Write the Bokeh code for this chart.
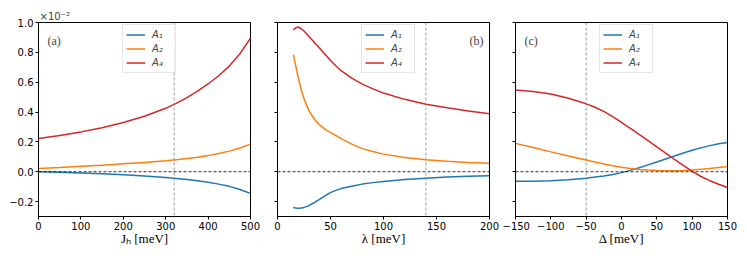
from bokeh.plotting import figure
from bokeh.models import Range1d, FixedTicker, CustomJSTickFormatter, Span, Label
from bokeh.layouts import row
from bokeh.embed import file_html
from bokeh.resources import INLINE

# ---------------- data ----------------
# panel (a): J_H [meV]
jh = [0, 50, 100, 150, 200, 250, 300, 325, 350, 375, 400, 425, 450, 475, 500]
a_A1 = [0.0, -0.004, -0.009, -0.014, -0.021, -0.029, -0.039, -0.045, -0.052, -0.060,
        -0.070, -0.083, -0.098, -0.119, -0.145]
a_A2 = [0.022, 0.028, 0.036, 0.044, 0.053, 0.062, 0.073, 0.080, 0.088, 0.097,
        0.108, 0.122, 0.138, 0.159, 0.185]
a_A4 = [0.222, 0.243, 0.267, 0.295, 0.330, 0.372, 0.425, 0.458, 0.497, 0.540,
        0.588, 0.643, 0.708, 0.790, 0.895]

# panel (b): lambda [meV]
lam = [15, 16, 17.5, 19, 20, 22.5, 25, 27.5, 30, 35, 40, 45, 50, 55, 60, 70, 80, 90,
       100, 120, 140, 160, 180, 200]
b_A1 = [-0.238, -0.241, -0.243, -0.244, -0.244, -0.243, -0.239, -0.234, -0.226, -0.206,
        -0.183, -0.160, -0.140, -0.125, -0.113, -0.097, -0.083, -0.073,
        -0.065, -0.052, -0.043, -0.036, -0.031, -0.027]
b_A2 = [0.784, 0.750, 0.700, 0.648, 0.617, 0.546, 0.490, 0.445, 0.405, 0.350,
        0.312, 0.284, 0.262, 0.243, 0.222, 0.185, 0.155, 0.135,
        0.118, 0.095, 0.080, 0.070, 0.062, 0.056]
b_A4 = [0.950, 0.958, 0.965, 0.969, 0.968, 0.958, 0.943, 0.925, 0.905, 0.865,
        0.825, 0.785, 0.745, 0.710, 0.677, 0.627, 0.587, 0.555,
        0.527, 0.485, 0.452, 0.428, 0.407, 0.389]

# panel (c): Delta [meV]
delta = [-150, -125, -100, -75, -50, -37.5, -25, -12.5, 0, 12.5, 25, 37.5, 50, 62.5,
         75, 87.5, 100, 112.5, 125, 137.5, 150]
c_A1 = [-0.064, -0.063, -0.060, -0.054, -0.043, -0.036, -0.028, -0.018, -0.006, 0.009,
        0.027, 0.046, 0.065, 0.085, 0.105, 0.125, 0.144, 0.160, 0.175, 0.187, 0.196]
c_A2 = [0.190, 0.162, 0.133, 0.105, 0.078, 0.065, 0.052, 0.040, 0.030, 0.021,
        0.015, 0.011, 0.008, 0.006, 0.006, 0.008, 0.012, 0.017, 0.022, 0.029, 0.035]
c_A4 = [0.547, 0.538, 0.521, 0.492, 0.455, 0.432, 0.404, 0.369, 0.330, 0.290,
        0.250, 0.209, 0.167, 0.125, 0.083, 0.042, 0.002, -0.032, -0.060, -0.084, -0.106]

series_names = ["A\u2081", "A\u2082", "A\u2084"]
colors = ["#1f77b4", "#ff7f0e", "#d62728"]

y_ticks = [-0.2, 0.0, 0.2, 0.4, 0.6, 0.8, 1.0]
a_xticks = [0, 100, 200, 300, 400, 500]
b_xticks = [0, 50, 100, 150, 200]
c_xticks = [-150, -100, -50, 0, 50, 100, 150]

a_marker, b_marker, c_marker = 320, 140, -50

panels = [
    dict(x=jh, ys=[a_A1, a_A2, a_A4], xr=(0, 500), xt=a_xticks, vline=a_marker,
         tag="(a)", xlabel="J\u2095 [meV]", left=38, right=13, show_y=True),
    dict(x=lam, ys=[b_A1, b_A2, b_A4], xr=(0, 200), xt=b_xticks, vline=b_marker,
         tag="(b)", xlabel="\u03bb [meV]", left=14, right=13, show_y=False),
    dict(x=delta, ys=[c_A1, c_A2, c_A4], xr=(-150, 150), xt=c_xticks, vline=c_marker,
         tag="(c)", xlabel="\u0394 [meV]", left=13, right=12, show_y=False),
]

FW, FH = 212, 194
SERIF = "Liberation Serif"
SANS = "DejaVu Sans"

figs = []
for i, pd_ in enumerate(panels):
    p = figure(frame_width=FW, frame_height=FH,
               x_range=Range1d(*pd_["xr"]), y_range=Range1d(-0.3, 1.0),
               output_backend="svg", toolbar_location=None,
               min_border_left=pd_["left"], min_border_right=pd_["right"],
               min_border_top=22, min_border_bottom=38,
               background_fill_color="white", border_fill_color="white")
    p.grid.visible = False
    p.outline_line_color = "black"
    p.outline_line_width = 1

    for ax in (p.xaxis[0], p.yaxis[0]):
        ax.major_tick_out = 3
        ax.major_tick_in = 0
        ax.minor_tick_out = 0
        ax.minor_tick_in = 0
        ax.axis_line_color = "black"
        ax.major_tick_line_color = "black"
        ax.major_label_text_font = SANS
        ax.major_label_text_font_size = "10px"
        ax.major_label_text_color = "black"
        ax.major_label_standoff = 2

    p.xaxis.ticker = FixedTicker(ticks=pd_["xt"])
    p.xaxis.formatter = CustomJSTickFormatter(code="return tick.toFixed(0).replace('-', '\u2212');")
    p.xaxis.axis_label = pd_["xlabel"]
    p.xaxis.axis_label_text_font = SERIF
    p.xaxis.axis_label_text_font_size = "13px"
    p.xaxis.axis_label_text_font_style = "normal"
    p.xaxis.axis_label_text_color = "black"
    p.xaxis.axis_label_standoff = -2

    p.yaxis.ticker = FixedTicker(ticks=y_ticks)
    if pd_["show_y"]:
        p.yaxis.formatter = CustomJSTickFormatter(code="return tick.toFixed(1).replace('-', '\u2212');")
    else:
        p.yaxis.formatter = CustomJSTickFormatter(code="return '';")
        p.yaxis.major_label_text_font_size = "0px"

    # reference lines
    p.add_layout(Span(location=0, dimension="width", line_color="black",
                      line_dash="3 2", line_width=0.8))
    p.add_layout(Span(location=pd_["vline"], dimension="height", line_color="#808080",
                      line_dash="3 2", line_width=0.8))

    for ys, name, col in zip(pd_["ys"], series_names, colors):
        p.line(pd_["x"], ys, line_color=col, line_width=1.5, legend_label=name)

    lg = p.legend[0]
    lg.location = (84, 143)
    lg.glyph_width = 19
    lg.glyph_height = 13
    lg.label_height = 13
    lg.spacing = 1
    lg.padding = 3
    lg.margin = 0
    lg.label_standoff = 7
    lg.label_text_font = SANS
    lg.label_text_font_style = "italic"
    lg.label_text_font_size = "10px"
    lg.border_line_color = "#cccccc"
    lg.border_line_width = 1
    lg.background_fill_alpha = 0.8

    # panel tag
    if pd_["tag"] == "(b)":
        p.add_layout(Label(x=206, y=FH - 18, x_units="screen", y_units="screen",
                           text=pd_["tag"], text_font=SERIF, text_font_size="12px",
                           text_align="right", text_baseline="middle"))
    else:
        p.add_layout(Label(x=9, y=FH - 18, x_units="screen", y_units="screen",
                           text=pd_["tag"], text_font=SERIF, text_font_size="12px",
                           text_align="left", text_baseline="middle"))

    if i == 0:
        p.title.text = "\u00d710\u207b\u00b2"
        p.title.align = "left"
        p.title.text_font = SANS
        p.title.text_font_size = "10px"
        p.title.text_font_style = "normal"
        p.title.standoff = 1
        p.title.offset = 1
        p.title.vertical_align = "bottom"
    figs.append(p)

layout = row(*figs, spacing=0)
open("out.html", "w").write(file_html(layout, INLINE))
